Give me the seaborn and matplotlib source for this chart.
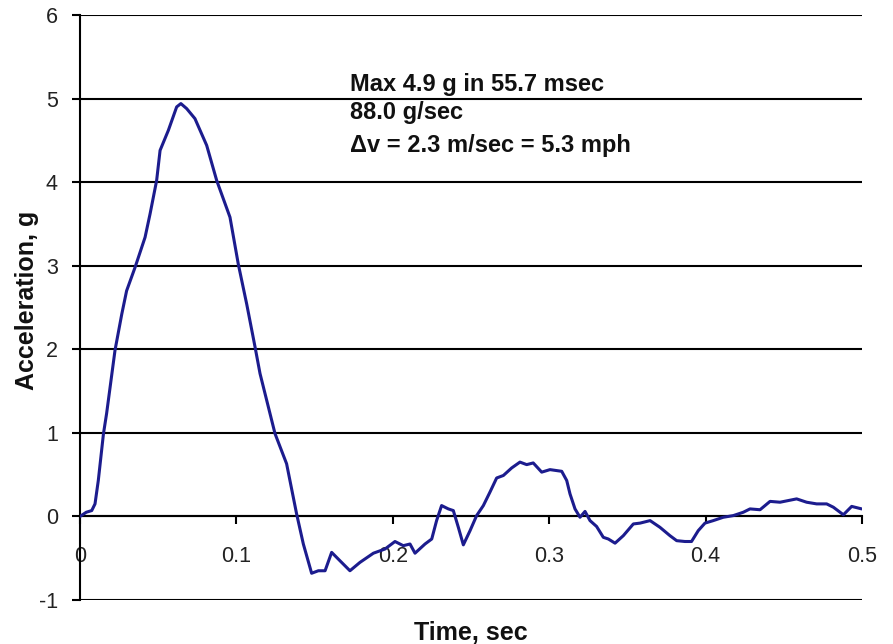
import matplotlib
matplotlib.use("Agg")
import matplotlib.pyplot as plt
import seaborn as sns
import pandas as pd

# Crash pulse: time (s) and acceleration (g)
time_s = [0, 0.004, 0.0075, 0.0096, 0.0117, 0.015, 0.017, 0.0224, 0.0267, 0.0298,
          0.0352, 0.0416, 0.0448, 0.049, 0.0512, 0.0565, 0.0618, 0.0645, 0.0682, 0.0735,
          0.081, 0.0874, 0.0959, 0.1012, 0.1066, 0.1119, 0.1151, 0.1247, 0.1321, 0.1385,
          0.1428, 0.1481, 0.1524, 0.1567, 0.1609, 0.1662, 0.1726, 0.179, 0.1876, 0.195,
          0.2014, 0.2067, 0.211, 0.2142, 0.2206, 0.2249, 0.228, 0.2312, 0.2355, 0.2387,
          0.2419, 0.2451, 0.2494, 0.2536, 0.2579, 0.2621, 0.2664, 0.2707, 0.276, 0.2813,
          0.2856, 0.2898, 0.2952, 0.3005, 0.308, 0.3112, 0.3133, 0.3165, 0.3197, 0.3229,
          0.3261, 0.3303, 0.3346, 0.3378, 0.3421, 0.3474, 0.3538, 0.3581, 0.3645, 0.3708,
          0.3772, 0.3815, 0.3868, 0.391, 0.3953, 0.3996, 0.4049, 0.4113, 0.4177, 0.4241,
          0.4284, 0.4348, 0.4412, 0.4476, 0.4529, 0.4582, 0.4646, 0.471, 0.4774, 0.4817,
          0.4881, 0.4934, 0.4998]

accel_g = [0, 0.05, 0.07, 0.15, 0.43, 0.99, 1.23, 1.99, 2.42, 2.70,
           2.98, 3.34, 3.62, 4.02, 4.38, 4.62, 4.90, 4.94, 4.88, 4.76,
           4.44, 4.02, 3.58, 3.02, 2.54, 2.03, 1.71, 0.99, 0.63, 0.03,
           -0.33, -0.68, -0.65, -0.65, -0.43, -0.53, -0.65, -0.55, -0.44, -0.39,
           -0.30, -0.35, -0.33, -0.44, -0.33, -0.27, -0.05, 0.13, 0.09, 0.07,
           -0.13, -0.34, -0.17, 0.01, 0.13, 0.29, 0.46, 0.49, 0.58, 0.65,
           0.62, 0.64, 0.53, 0.56, 0.54, 0.43, 0.27, 0.09, -0.01, 0.06,
           -0.05, -0.12, -0.25, -0.27, -0.32, -0.23, -0.09, -0.08, -0.05, -0.13,
           -0.23, -0.29, -0.30, -0.30, -0.17, -0.08, -0.05, -0.01, 0.01, 0.05,
           0.09, 0.08, 0.18, 0.17, 0.19, 0.21, 0.17, 0.15, 0.15, 0.11,
           0.02, 0.12, 0.09]

x_ticks = [0, 0.1, 0.2, 0.3, 0.4, 0.5]
x_tick_labels = ["0", "0.1", "0.2", "0.3", "0.4", "0.5"]
y_ticks = [-1, 0, 1, 2, 3, 4, 5, 6]
y_tick_labels = ["-1", "0", "1", "2", "3", "4", "5", "6"]

notes = ["Max 4.9 g in 55.7 msec", "88.0 g/sec", "\u0394v = 2.3 m/sec = 5.3 mph"]

sns.set_style("white")
plt.rcParams["font.family"] = ["Liberation Sans", "DejaVu Sans"]

df = pd.DataFrame({"t": time_s, "a": accel_g})

fig = plt.figure(figsize=(8.93, 6.44), dpi=100)
ax = fig.add_axes([80 / 893, 1 - 600 / 644, 782 / 893, 585 / 644])

# horizontal gridlines at every integer g
for yv in y_ticks:
    ax.axhline(yv, color="black", lw=1.5, zorder=1)

sns.lineplot(data=df, x="t", y="a", sort=False, estimator=None,
             color="#1c1c8e", lw=2.2, ax=ax, zorder=3)
ax.lines[-1].set_solid_joinstyle("round")

ax.set_xlim(0, 0.5)
ax.set_ylim(-1, 6)
ax.set_xticks(x_ticks)
ax.set_xticklabels(x_tick_labels)
ax.set_yticks(y_ticks)
ax.set_yticklabels(y_tick_labels)

for side in ("top", "right"):
    ax.spines[side].set_visible(False)
ax.spines["left"].set_color("black")
ax.spines["left"].set_linewidth(1.5)
ax.spines["bottom"].set_position(("data", 0))
ax.spines["bottom"].set_color("black")
ax.spines["bottom"].set_linewidth(1.5)

ax.tick_params(axis="x", direction="out", length=6, width=1.5, pad=15,
               labelsize=15.5, colors="black", bottom=True)
ax.tick_params(axis="y", direction="out", length=6, width=1.5, pad=10,
               labelsize=15.5, colors="black", left=True)
for lbl in ax.get_xticklabels() + ax.get_yticklabels():
    lbl.set_color("#222222")

ax.set_xlabel("Time, sec", fontsize=18, fontweight="bold", color="#111111")
ax.set_ylabel("Acceleration, g", fontsize=18, fontweight="bold", color="#111111")
ax.xaxis.set_label_coords(0.5, -0.036)
ax.yaxis.set_label_coords(-0.052, 0.513)

for txt, yv in zip(notes, [5.17, 4.83, 4.44]):
    ax.text(0.1726, yv, txt, fontsize=17, fontweight="bold", va="center",
            ha="left", color="#111111", zorder=4)

fig.savefig("out.png", dpi=100)
